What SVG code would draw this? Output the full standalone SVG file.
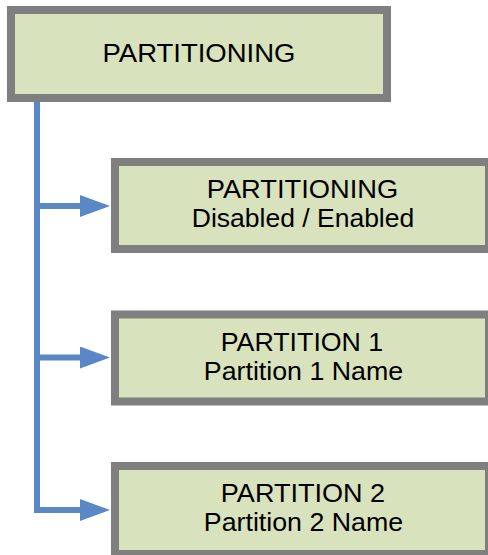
<svg xmlns="http://www.w3.org/2000/svg" width="488" height="555" viewBox="0 0 488 555">
<style>
.box{fill:#d8e2bd;stroke:#7f7f7f;stroke-width:8}
.t{font-family:"Liberation Sans",Arial,sans-serif;font-size:25px;fill:#000;text-anchor:middle}
.c{fill:none;stroke:#5a88c6;stroke-width:6;stroke-linejoin:miter}
</style>
<defs>
<marker id="ah" markerUnits="userSpaceOnUse" markerWidth="30" markerHeight="22" refX="2" refY="11" orient="auto">
<path d="M0,0 L30,11 L0,22 z" fill="#5a88c6"/>
</marker>
</defs>
<rect width="488" height="555" fill="#fff"/>
<g id="connectors">
<path class="c" d="M37,102 V510 H82" marker-end="url(#ah)"/>
<path class="c" d="M37,206 H82" marker-end="url(#ah)"/>
<path class="c" d="M37,357.5 H82" marker-end="url(#ah)"/>
</g>
<g id="root">
<rect class="box" x="11" y="10" width="376" height="88"/>
<text class="t" x="199" y="61.5" textLength="193" lengthAdjust="spacingAndGlyphs">PARTITIONING</text>
</g>
<g id="node-partitioning">
<rect class="box" x="115" y="162" width="374" height="87"/>
<text class="t" x="302.5" y="197.5" textLength="191.5" lengthAdjust="spacingAndGlyphs">PARTITIONING</text>
<text class="t" x="303" y="227" textLength="222.5" lengthAdjust="spacingAndGlyphs">Disabled / Enabled</text>
</g>
<g id="node-partition1">
<rect class="box" x="115" y="314.5" width="374" height="87"/>
<text class="t" x="302" y="350.7" textLength="162.5" lengthAdjust="spacingAndGlyphs">PARTITION 1</text>
<text class="t" x="303.5" y="379.5" textLength="199.3" lengthAdjust="spacingAndGlyphs">Partition 1 Name</text>
</g>
<g id="node-partition2">
<rect class="box" x="115" y="466" width="374" height="88"/>
<text class="t" x="303" y="501.7" textLength="164.3" lengthAdjust="spacingAndGlyphs">PARTITION 2</text>
<text class="t" x="303.5" y="531" textLength="199.3" lengthAdjust="spacingAndGlyphs">Partition 2 Name</text>
</g>
</svg>
